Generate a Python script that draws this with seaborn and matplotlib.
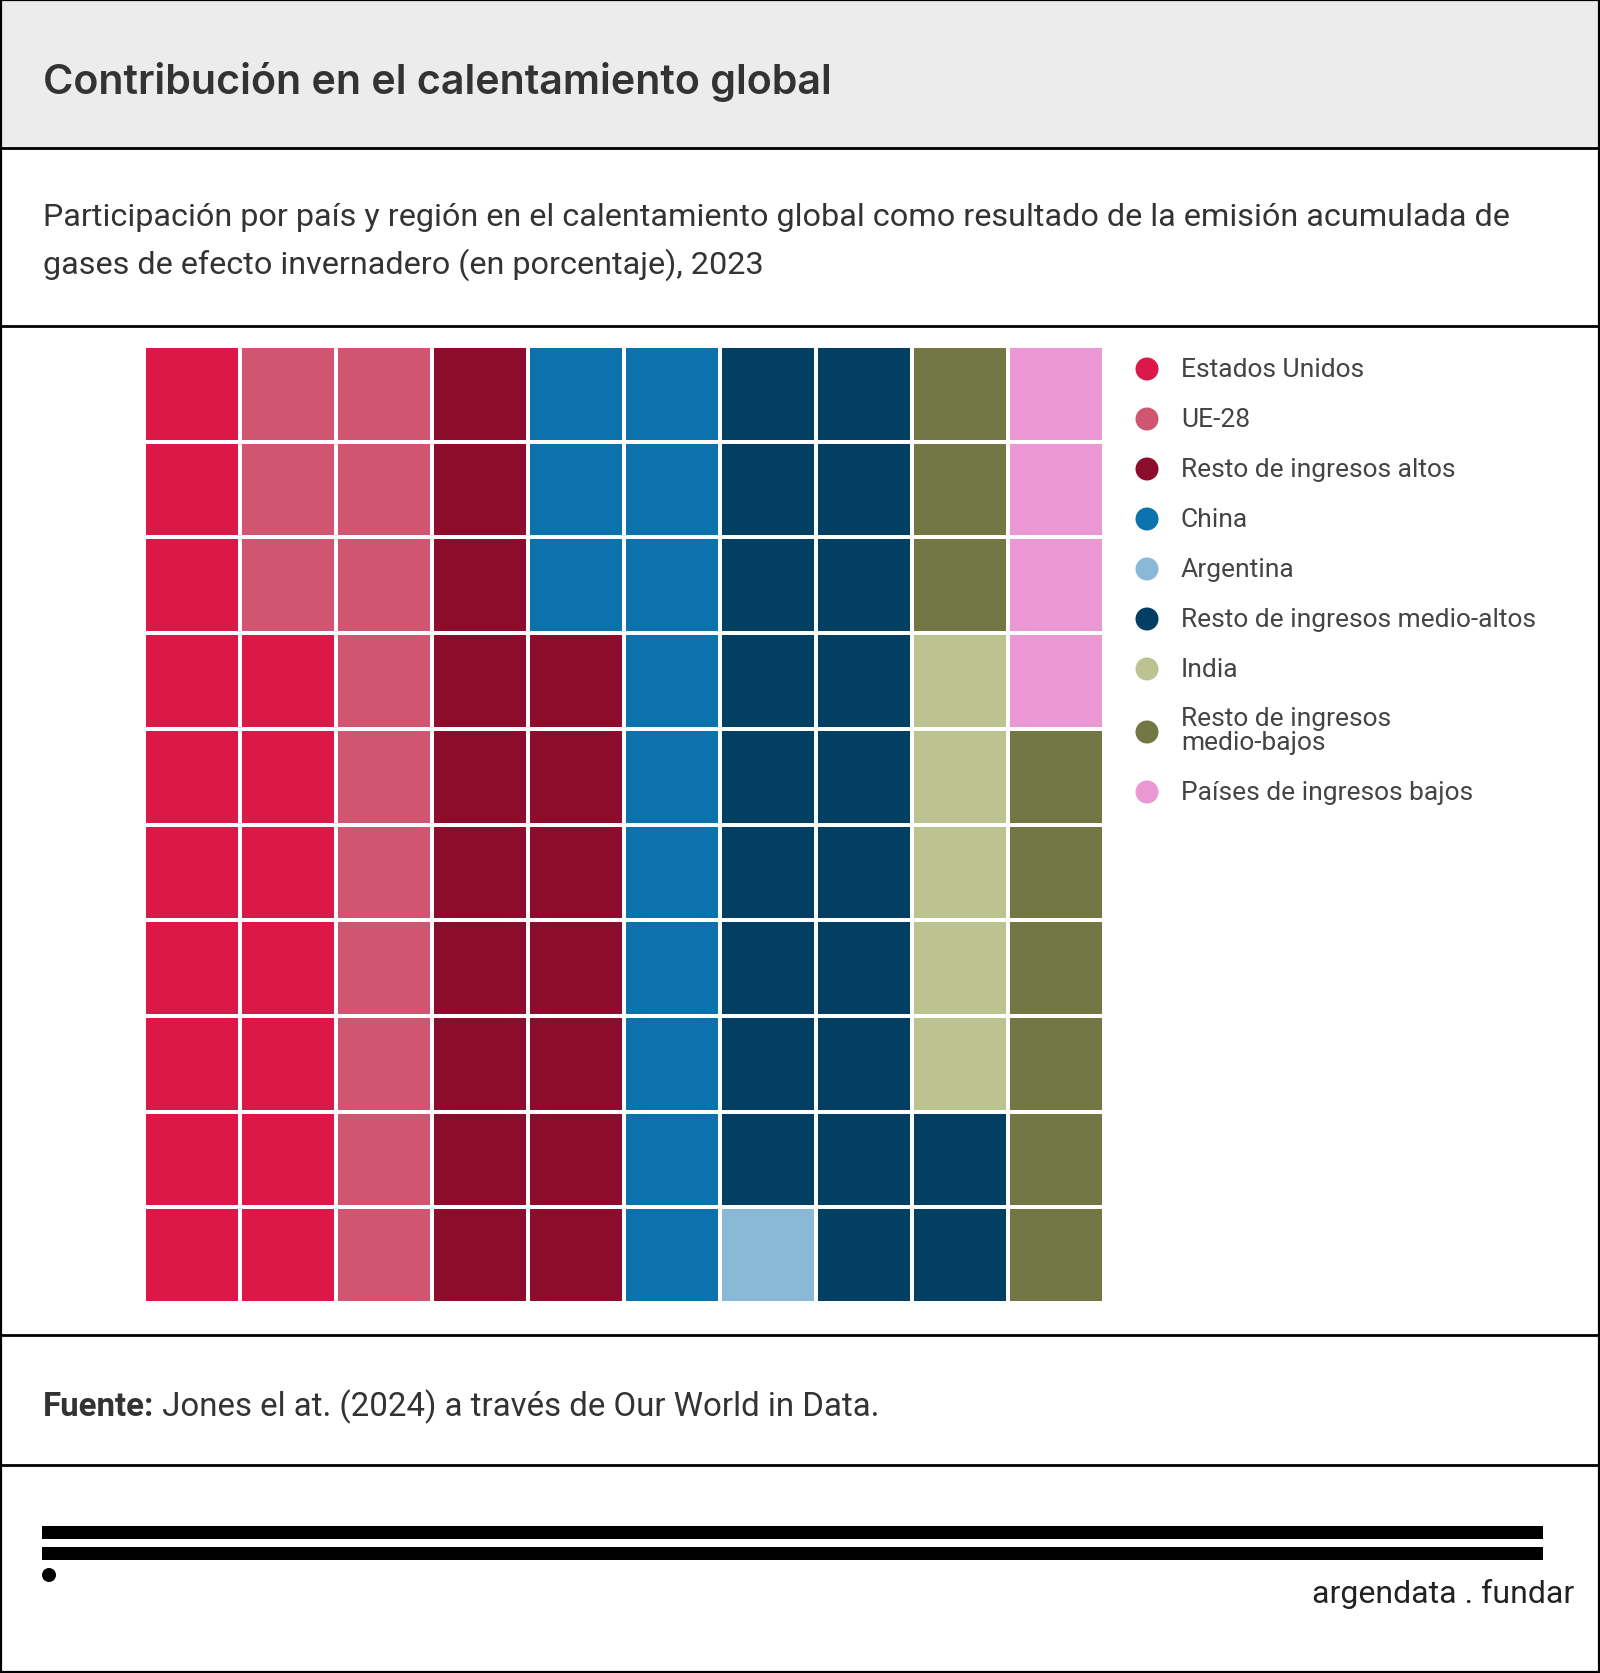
import numpy as np
import matplotlib
matplotlib.use("Agg")
import matplotlib.pyplot as plt
from matplotlib.colors import ListedColormap
from matplotlib.patches import Rectangle, Circle
import seaborn as sns

# ---------- data ----------
categories = [
    "Estados Unidos",
    "UE-28",
    "Resto de ingresos altos",
    "China",
    "Argentina",
    "Resto de ingresos medio-altos",
    "India",
    "Resto de ingresos\nmedio-bajos",
    "Países de ingresos bajos",
]
shares = [17, 13, 17, 13, 1, 21, 5, 9, 4]   # percent, one square each
colors = ["#dc1848", "#d05570", "#8c0c2c", "#0b72ad", "#8ab9d7",
          "#033f63", "#bcc390", "#727744", "#eb97d3"]

title = "Contribución en el calentamiento global"
subtitle = ("Participación por país y región en el calentamiento global como resultado de la emisión acumulada de\n"
            "gases de efecto invernadero (en porcentaje), 2023")
source_bold = "Fuente:"
source_text = " Jones el at. (2024) a través de Our World in Data."

sns.set_style("white")
plt.rcParams["font.family"] = ["Roboto", "DejaVu Sans"]

W, H = 1600, 1674
fig = plt.figure(figsize=(W / 100, H / 100), dpi=100)

# background axes in pixel units for the card layout
bg = fig.add_axes([0, 0, 1, 1])
bg.set_xlim(0, W)
bg.set_ylim(H, 0)
bg.axis("off")

bg.add_patch(Rectangle((0, 0), W, 149, facecolor="#ececec", edgecolor="none"))
for y in [149, 327, 1336, 1466]:
    bg.plot([0, W], [y, y], color="black", lw=2, solid_capstyle="butt")
bg.add_patch(Rectangle((1, 1), W - 2, H - 2, fill=False, edgecolor="black", lw=1.6, clip_on=False))

bg.text(43, 82, title, fontsize=29.7, fontweight="semibold", family=["Inter", "DejaVu Sans"],
        color="#333333", va="center", ha="left")
bg.text(43, 242, subtitle, fontsize=23.3, color="#333333", va="center", ha="left", linespacing=1.62)

t1 = bg.text(43, 1407, source_bold, fontsize=23.8, fontweight="bold", color="#333333", va="center", ha="left")
fig.canvas.draw()
x2 = t1.get_window_extent().x1  # pixel x, same as data x here
bg.text(x2, 1407, source_text, fontsize=23.8, color="#333333", va="center", ha="left")

# logo
bg.add_patch(Rectangle((42, 1527), 1501, 13, facecolor="black", edgecolor="none"))
bg.add_patch(Rectangle((42, 1548), 1501, 13, facecolor="black", edgecolor="none"))
bg.add_patch(Circle((49, 1576), 7, facecolor="black", edgecolor="none"))
bg.text(1574, 1594, "argendata . fundar", fontsize=23, color="#222222", ha="right", va="center")

# ---------- waffle ----------
codes = np.repeat(np.arange(len(shares)), shares)
grid = codes.reshape(10, 10)          # grid[col] = squares from bottom to top
mat = grid.T[::-1]                    # rows top to bottom

left, top, right, bottom = 144, 347, 1104, 1304
ax = fig.add_axes([left / W, 1 - bottom / H, (right - left) / W, (bottom - top) / H])
sns.heatmap(mat, ax=ax, cmap=ListedColormap(colors), vmin=-0.5, vmax=len(colors) - 0.5,
            cbar=False, linewidths=2.6, linecolor="white", square=False,
            xticklabels=False, yticklabels=False)
ax.set_xlabel("")
ax.set_ylabel("")

# ---------- legend ----------
y = 370
for label, color in zip(categories, colors):
    n_lines = label.count("\n") + 1
    yc = y + (n_lines - 1) * 13
    bg.add_patch(Circle((1147, yc), 11.5, facecolor=color, edgecolor="none"))
    bg.text(1181, yc - 2 * (n_lines - 1), label, fontsize=19, color="#444444", va="center", ha="left",
            linespacing=1.05)
    y += 50 + (n_lines - 1) * 23

fig.savefig("out.png", dpi=100)
